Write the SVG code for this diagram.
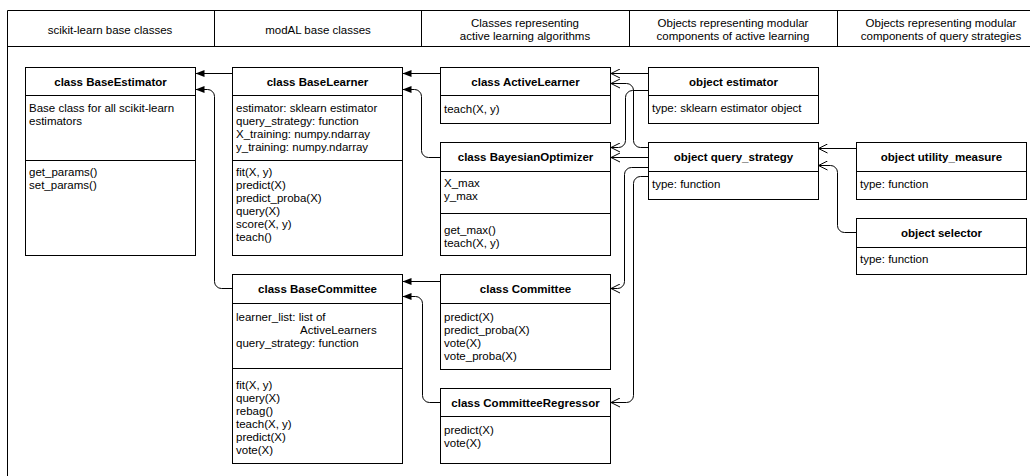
<svg xmlns="http://www.w3.org/2000/svg" width="1030" height="476" viewBox="0 0 1030 476">
<style>
text{font-family:"Liberation Sans",Arial,sans-serif;font-size:11.5px;fill:#000}
.t{font-weight:bold;text-anchor:middle}
.h{text-anchor:middle}
.box{fill:#fff;stroke:#000;stroke-width:1}
.ln{stroke:#000;stroke-width:1;fill:none}
.inh{stroke:#000;stroke-width:1;fill:none;marker-end:url(#fill)}
.dep{stroke:#000;stroke-width:1;fill:none;marker-end:url(#open)}
</style>
<defs>
<marker id="fill" markerUnits="userSpaceOnUse" markerWidth="10" markerHeight="8" refX="9" refY="4" orient="auto">
<path d="M0,0.5 L9,4 L0,7.5 z" fill="#000"/>
</marker>
<marker id="open" markerUnits="userSpaceOnUse" markerWidth="11" markerHeight="10" refX="9.5" refY="5" orient="auto">
<path d="M0.5,0.5 L9.5,5 L0.5,9.5" fill="none" stroke="#000" stroke-width="1"/>
</marker>
</defs>
<rect width="1030" height="476" fill="#fff"/>
<g id="frame">
<path class="ln" d="M7.5,476 V10.5 H1030 M7.5,46.5 H1030 M214.5,10.5 V46.5 M421.5,10.5 V46.5 M629.5,10.5 V46.5 M837.5,10.5 V46.5"/>
<text class="h" x="110" y="34">scikit-learn base classes</text>
<text class="h" x="318" y="34">modAL base classes</text>
<text class="h" x="525" y="27">Classes representing</text>
<text class="h" x="525" y="40">active learning algorithms</text>
<text class="h" x="733" y="27">Objects representing modular</text>
<text class="h" x="733" y="40">components of active learning</text>
<text class="h" x="941" y="27">Objects representing modular</text>
<text class="h" x="941" y="40">components of query strategies</text>
</g>
<g id="connectors">
<path class="inh" d="M232,73.5 H195.5"/>
<path class="inh" d="M232,288.5 H221.5 A7,7 0 0 1 214.5,281.5 V96.5 A7,7 0 0 0 207.5,89.5 H195.5"/>
<path class="inh" d="M440,73.5 H402.5"/>
<path class="inh" d="M440,157.5 H428.5 A7,7 0 0 1 421.5,150.5 V96.5 A7,7 0 0 0 414.5,89.5 H402.5"/>
<path class="inh" d="M440,281.5 H402.5"/>
<path class="inh" d="M440,402.5 H429.5 A7,7 0 0 1 422.5,395.5 V303.5 A7,7 0 0 0 415.5,296.5 H402.5"/>
<path class="dep" d="M648,73.5 H611"/>
<path class="dep" d="M648,90.5 H632.5 A7,7 0 0 0 625.5,97.5 V140.5 A7,7 0 0 1 618.5,147.5 H611"/>
<path class="dep" d="M648,147.5 H640.5 A7,7 0 0 1 633.5,140.5 V90.5 A7,7 0 0 0 626.5,83.5 H611"/>
<path class="dep" d="M648,157.5 H611"/>
<path class="dep" d="M648,167.5 H631.5 A7,7 0 0 0 624.5,174.5 V281.5 A7,7 0 0 1 617.5,288.5 H611"/>
<path class="dep" d="M648,176.5 H640.5 A7,7 0 0 0 633.5,183.5 V395.5 A7,7 0 0 1 626.5,402.5 H611"/>
<path class="dep" d="M856,148.5 H818.5"/>
<path class="dep" d="M856,232.5 H844.5 A7,7 0 0 1 837.5,225.5 V172.5 A7,7 0 0 0 830.5,165.5 H818.5"/>
</g>
<g id="BaseEstimator">
<rect class="box" x="25.5" y="67.5" width="170" height="188"/>
<path class="ln" d="M25.5,95.5 H195.5 M25.5,160.5 H195.5"/>
<text class="t" x="110.5" y="85.5">class BaseEstimator</text>
<text x="29" y="112">Base class for all scikit-learn</text>
<text x="29" y="125">estimators</text>
<text x="29" y="176">get_params()</text>
<text x="29" y="189">set_params()</text>
</g>
<g id="BaseLearner">
<rect class="box" x="232.5" y="67.5" width="170" height="188"/>
<path class="ln" d="M232.5,95.5 H402.5 M232.5,160.5 H402.5"/>
<text class="t" x="317.5" y="85.5">class BaseLearner</text>
<text x="236" y="112">estimator: sklearn estimator</text>
<text x="236" y="125">query_strategy: function</text>
<text x="236" y="138">X_training: numpy.ndarray</text>
<text x="236" y="151">y_training: numpy.ndarray</text>
<text x="236" y="176">fit(X, y)</text>
<text x="236" y="189">predict(X)</text>
<text x="236" y="202">predict_proba(X)</text>
<text x="236" y="215">query(X)</text>
<text x="236" y="228">score(X, y)</text>
<text x="236" y="241">teach()</text>
</g>
<g id="BaseCommittee">
<rect class="box" x="232.5" y="274.5" width="170" height="189"/>
<path class="ln" d="M232.5,303.5 H402.5 M232.5,368.5 H402.5"/>
<text class="t" x="317.5" y="292.5">class BaseCommittee</text>
<text x="236" y="321">learner_list: list of</text>
<text x="300" y="334">ActiveLearners</text>
<text x="236" y="347">query_strategy: function</text>
<text x="236" y="389">fit(X, y)</text>
<text x="236" y="402">query(X)</text>
<text x="236" y="415">rebag()</text>
<text x="236" y="428">teach(X, y)</text>
<text x="236" y="441">predict(X)</text>
<text x="236" y="454">vote(X)</text>
</g>
<g id="ActiveLearner">
<rect class="box" x="440.5" y="67.5" width="170" height="56"/>
<path class="ln" d="M440.5,95.5 H610.5"/>
<text class="t" x="525.5" y="85.5">class ActiveLearner</text>
<text x="444" y="113">teach(X, y)</text>
</g>
<g id="BayesianOptimizer">
<rect class="box" x="440.5" y="142.5" width="170" height="113"/>
<path class="ln" d="M440.5,171.5 H610.5 M440.5,213.5 H610.5"/>
<text class="t" x="525.5" y="161">class BayesianOptimizer</text>
<text x="444" y="187">X_max</text>
<text x="444" y="200">y_max</text>
<text x="444" y="234">get_max()</text>
<text x="444" y="247">teach(X, y)</text>
</g>
<g id="Committee">
<rect class="box" x="440.5" y="274.5" width="170" height="95"/>
<path class="ln" d="M440.5,303.5 H610.5"/>
<text class="t" x="525.5" y="292.5">class Committee</text>
<text x="444" y="321">predict(X)</text>
<text x="444" y="334">predict_proba(X)</text>
<text x="444" y="347">vote(X)</text>
<text x="444" y="360">vote_proba(X)</text>
</g>
<g id="CommitteeRegressor">
<rect class="box" x="440.5" y="388.5" width="170" height="75"/>
<path class="ln" d="M440.5,416.5 H610.5"/>
<text class="t" x="525.5" y="406.5">class CommitteeRegressor</text>
<text x="444" y="434">predict(X)</text>
<text x="444" y="447">vote(X)</text>
</g>
<g id="estimator">
<rect class="box" x="648.5" y="67.5" width="170" height="56"/>
<path class="ln" d="M648.5,95.5 H818.5"/>
<text class="t" x="733.5" y="85.5">object estimator</text>
<text x="652" y="112">type: sklearn estimator object</text>
</g>
<g id="query_strategy">
<rect class="box" x="648.5" y="142.5" width="170" height="57"/>
<path class="ln" d="M648.5,171.5 H818.5"/>
<text class="t" x="733.5" y="161">object query_strategy</text>
<text x="652" y="188">type: function</text>
</g>
<g id="utility_measure">
<rect class="box" x="856.5" y="142.5" width="170" height="57"/>
<path class="ln" d="M856.5,171.5 H1026.5"/>
<text class="t" x="941.5" y="161">object utility_measure</text>
<text x="860" y="188">type: function</text>
</g>
<g id="selector">
<rect class="box" x="856.5" y="218.5" width="170" height="56"/>
<path class="ln" d="M856.5,247.5 H1026.5"/>
<text class="t" x="941.5" y="236.5">object selector</text>
<text x="860" y="263">type: function</text>
</g>
</svg>
